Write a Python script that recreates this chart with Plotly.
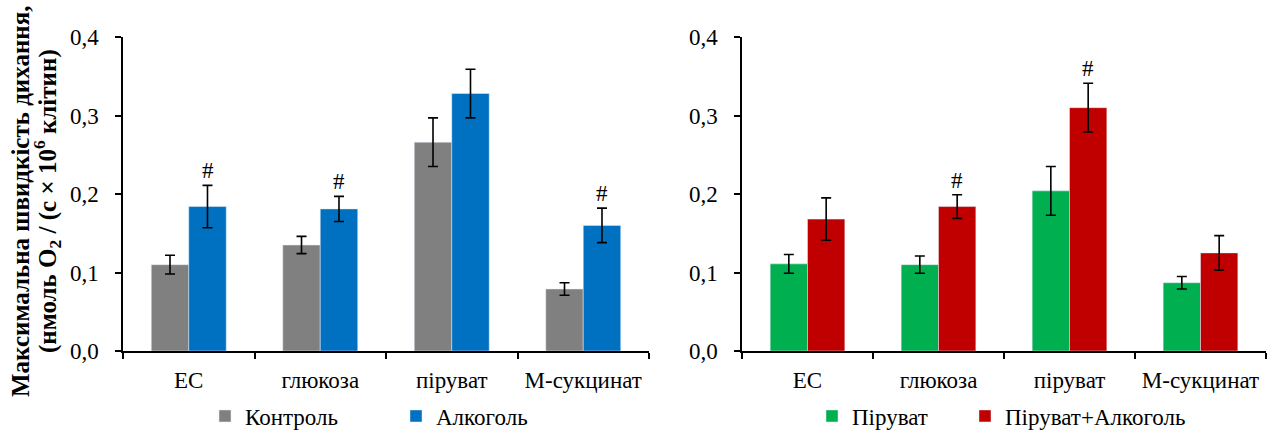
import plotly.graph_objects as go

categories = ["ЕС", "глюкоза", "піруват", "М-сукцинат"]

# Left panel
control = [0.110, 0.135, 0.266, 0.079]
control_err = [0.012, 0.011, 0.031, 0.008]
alcohol = [0.184, 0.181, 0.328, 0.160]
alcohol_err = [0.027, 0.016, 0.031, 0.022]
alcohol_hash = [True, True, False, True]

# Right panel
pyruvate = [0.111, 0.110, 0.204, 0.087]
pyruvate_err = [0.012, 0.011, 0.031, 0.008]
pyr_alc = [0.168, 0.184, 0.310, 0.125]
pyr_alc_err = [0.027, 0.015, 0.031, 0.022]
pyr_alc_hash = [False, True, True, False]

y_ticks = [0.0, 0.1, 0.2, 0.3, 0.4]

title_line1 = "Максимальна швидкість дихання,"
title_line2 = "(нмоль O<sub>2</sub> / (с × 10<sup>6</sup> клітин)"

FONT = "Liberation Serif, Times New Roman, serif"
FS = 23
W, H = 1271, 432

def px(x):
    return x / W

def py(y):
    return 1 - y / H

err_style = dict(type="data", color="black", thickness=1.6, width=5)

fig = go.Figure()
fig.add_trace(go.Bar(x=categories, y=control, name="Контроль", marker_color="#808080",
                     error_y=dict(array=control_err, **err_style), xaxis="x", yaxis="y",
                     legend="legend"))
fig.add_trace(go.Bar(x=categories, y=alcohol, name="Алкоголь", marker_color="#0070C0",
                     error_y=dict(array=alcohol_err, **err_style), xaxis="x", yaxis="y",
                     legend="legend2"))
fig.add_trace(go.Bar(x=categories, y=pyruvate, name="Піруват", marker_color="#00B050",
                     error_y=dict(array=pyruvate_err, **err_style), xaxis="x2", yaxis="y2",
                     legend="legend3"))
fig.add_trace(go.Bar(x=categories, y=pyr_alc, name="Піруват+Алкоголь", marker_color="#C00000",
                     error_y=dict(array=pyr_alc_err, **err_style), xaxis="x2", yaxis="y2",
                     legend="legend4"))

annotations = []
for i, (v, e, h) in enumerate(zip(alcohol, alcohol_err, alcohol_hash)):
    if h:
        annotations.append(dict(x=i + 0.143, y=v + e, xref="x", yref="y", text="#",
                                showarrow=False, yanchor="bottom", yshift=0,
                                font=dict(family=FONT, size=FS, color="black")))
for i, (v, e, h) in enumerate(zip(pyr_alc, pyr_alc_err, pyr_alc_hash)):
    if h:
        annotations.append(dict(x=i + 0.143, y=v + e, xref="x2", yref="y2", text="#",
                                showarrow=False, yanchor="bottom", yshift=0,
                                font=dict(family=FONT, size=FS, color="black")))

for xpix, line in ((20, title_line1), (47, title_line2)):
    annotations.append(dict(
        x=px(xpix), y=py(201), xref="paper", yref="paper",
        text="<b>" + line + "</b>",
        textangle=-90, showarrow=False, xanchor="center", yanchor="middle",
        font=dict(family=FONT, size=25, color="black")))

xaxis_common = dict(type="category", showline=True, linecolor="black", linewidth=1.5,
                    ticks="outside", tickson="boundaries", ticklen=6, tickwidth=1.5,
                    tickcolor="black", showgrid=False, zeroline=False,
                    tickfont=dict(family=FONT, size=FS, color="black"),
                    ticklabelstandoff=8, fixedrange=True, automargin=False)
yaxis_common = dict(range=[0, 0.4], tickvals=y_ticks, tickformat=".1f", showline=True,
                    linecolor="black", linewidth=1.5, ticks="outside", ticklen=6,
                    tickwidth=1.5, tickcolor="black", showgrid=False, zeroline=False,
                    tickfont=dict(family=FONT, size=FS, color="black"),
                    ticklabelstandoff=12, domain=[py(351), py(37)], fixedrange=True,
                    automargin=False)

legend_common = dict(orientation="h", xanchor="left", yanchor="middle", y=py(416),
                     bgcolor="rgba(0,0,0,0)", borderwidth=0,
                     font=dict(family=FONT, size=FS, color="black"))

fig.update_layout(
    width=W, height=H,
    autosize=False,
    margin=dict(l=0, r=0, t=0, b=0, pad=0, autoexpand=False),
    paper_bgcolor="white", plot_bgcolor="white",
    separators=", ",
    barmode="group", bargap=0.43, bargroupgap=0,
    font=dict(family=FONT, size=FS, color="black"),
    xaxis=dict(domain=[px(123), px(649)], anchor="y", **xaxis_common),
    yaxis=dict(anchor="x", **yaxis_common),
    xaxis2=dict(domain=[px(742), px(1266)], anchor="y2", **xaxis_common),
    yaxis2=dict(anchor="x2", **yaxis_common),
    legend=dict(x=px(205), **legend_common),
    legend2=dict(x=px(396), **legend_common),
    legend3=dict(x=px(812), **legend_common),
    legend4=dict(x=px(965), **legend_common),
    annotations=annotations,
    showlegend=True,
)

fig.write_html("out.html")
